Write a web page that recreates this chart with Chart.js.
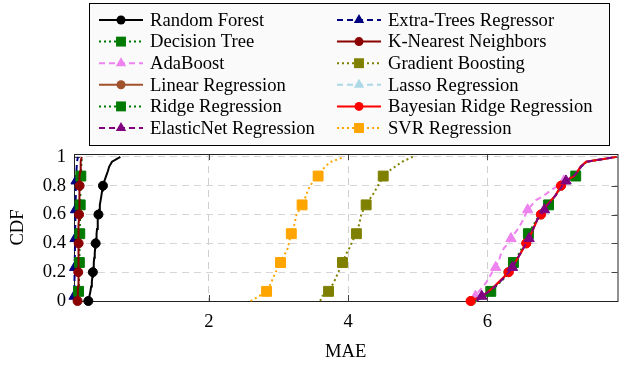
<!DOCTYPE html>
<html>
<head>
<meta charset="utf-8">
<script src="https://cdn.jsdelivr.net/npm/chart.js@4.4.1/dist/chart.umd.min.js"></script>
<style>
html, body { margin: 0; padding: 0; background: #fff; }
</style>
</head>
<body>
<canvas id="cdfChart" width="623" height="367"></canvas>
<script>
// CDF levels shared by every curve
const cdfLevels = [0, 0.033, 0.067, 0.1, 0.133, 0.167, 0.2, 0.233, 0.267, 0.3, 0.333, 0.367, 0.4, 0.433, 0.467,
  0.5, 0.533, 0.567, 0.6, 0.633, 0.667, 0.7, 0.733, 0.767, 0.8, 0.833, 0.867, 0.9, 0.933, 0.967, 1];

// MAE values (sorted) per model
const randomForest = [0.27, 0.285, 0.30, 0.31, 0.32, 0.328, 0.335, 0.342, 0.348, 0.355, 0.362, 0.368, 0.375, 0.382, 0.388,
  0.395, 0.402, 0.408, 0.415, 0.425, 0.435, 0.447, 0.458, 0.468, 0.48, 0.50, 0.525, 0.55, 0.57, 0.61, 0.73];
const extraTrees = [0.064, 0.066, 0.068, 0.070, 0.071, 0.072, 0.073, 0.074, 0.075, 0.076, 0.077, 0.078, 0.079, 0.080, 0.081,
  0.082, 0.083, 0.084, 0.085, 0.086, 0.087, 0.088, 0.089, 0.090, 0.092, 0.094, 0.096, 0.099, 0.103, 0.108, 0.12];
const decisionTree = [0.12, 0.125, 0.13, 0.133, 0.135, 0.137, 0.138, 0.14, 0.141, 0.142, 0.143, 0.144, 0.145, 0.146, 0.147,
  0.148, 0.149, 0.15, 0.151, 0.152, 0.153, 0.154, 0.155, 0.156, 0.158, 0.16, 0.162, 0.165, 0.168, 0.172, 0.18];
const knn = [0.115, 0.118, 0.120, 0.122, 0.123, 0.124, 0.125, 0.126, 0.127, 0.128, 0.129, 0.130, 0.131, 0.132, 0.133,
  0.134, 0.135, 0.136, 0.137, 0.138, 0.139, 0.140, 0.142, 0.143, 0.145, 0.147, 0.150, 0.153, 0.157, 0.163, 0.175];
const adaBoost = [5.78, 5.83, 5.88, 5.94, 5.99, 6.03, 6.07, 6.12, 6.15, 6.18, 6.20, 6.24, 6.30, 6.34, 6.39,
  6.44, 6.48, 6.52, 6.55, 6.58, 6.64, 6.70, 6.82, 6.91, 7.02, 7.10, 7.22, 7.29, 7.34, 7.43, 7.85];
const gradientBoosting = [3.60, 3.63, 3.72, 3.76, 3.80, 3.83, 3.86, 3.89, 3.92, 3.95, 3.98, 4.02, 4.05, 4.08, 4.12,
  4.14, 4.16, 4.175, 4.19, 4.22, 4.26, 4.30, 4.35, 4.39, 4.43, 4.47, 4.505, 4.58, 4.68, 4.78, 4.93];
const linearReg = [5.77, 5.92, 6.02, 6.10, 6.17, 6.24, 6.30, 6.36, 6.40, 6.44, 6.48, 6.52, 6.56, 6.60, 6.63,
  6.66, 6.69, 6.72, 6.77, 6.81, 6.86, 6.92, 6.98, 7.02, 7.06, 7.12, 7.25, 7.30, 7.34, 7.42, 7.86];
const lasso = [5.84, 5.92, 6.02, 6.10, 6.18, 6.25, 6.31, 6.36, 6.40, 6.44, 6.48, 6.52, 6.56, 6.60, 6.63,
  6.66, 6.69, 6.72, 6.77, 6.82, 6.87, 6.93, 6.98, 7.03, 7.08, 7.13, 7.24, 7.30, 7.35, 7.43, 7.86];
const ridgeReg = [5.82, 5.95, 6.05, 6.12, 6.19, 6.26, 6.32, 6.35, 6.375, 6.42, 6.46, 6.50, 6.54, 6.57, 6.59,
  6.63, 6.67, 6.71, 6.76, 6.82, 6.88, 6.93, 6.98, 7.03, 7.08, 7.14, 7.27, 7.31, 7.35, 7.43, 7.86];
const bayesianRidge = [5.76, 5.93, 6.02, 6.10, 6.17, 6.24, 6.31, 6.36, 6.40, 6.44, 6.48, 6.52, 6.56, 6.60, 6.63,
  6.66, 6.69, 6.72, 6.77, 6.81, 6.86, 6.92, 6.98, 7.02, 7.06, 7.12, 7.25, 7.30, 7.34, 7.42, 7.86];
const elasticNet = [5.85, 5.92, 6.03, 6.11, 6.18, 6.25, 6.31, 6.36, 6.40, 6.44, 6.48, 6.52, 6.56, 6.60, 6.63,
  6.66, 6.69, 6.72, 6.77, 6.82, 6.87, 6.93, 6.98, 7.03, 7.08, 7.13, 7.24, 7.30, 7.35, 7.43, 7.86];
const svr = [2.60, 2.72, 2.83, 2.87, 2.90, 2.93, 2.96, 3.00, 3.03, 3.065, 3.10, 3.135, 3.15, 3.165, 3.185,
  3.21, 3.23, 3.245, 3.26, 3.30, 3.34, 3.37, 3.40, 3.42, 3.46, 3.50, 3.57, 3.62, 3.67, 3.76, 3.95];

const xTicks = [2, 4, 6];
const yTicks = [0, 0.2, 0.4, 0.6, 0.8, 1];

const SOLID = [], DOTTED = [2, 3], DASHED = [6, 4];

// plot order (legend fills row by row, two columns)
const series = [
  { label: 'Random Forest', values: randomForest, color: '#000000', dash: SOLID, mark: 'circle' },
  { label: 'Extra-Trees Regressor', values: extraTrees, color: '#000080', dash: DASHED, mark: 'triangle' },
  { label: 'Decision Tree', values: decisionTree, color: '#007a00', dash: DOTTED, mark: 'rect' },
  { label: 'K-Nearest Neighbors', values: knn, color: '#8b0000', dash: SOLID, mark: 'circle' },
  { label: 'AdaBoost', values: adaBoost, color: '#ee82ee', dash: DASHED, mark: 'triangle' },
  { label: 'Gradient Boosting', values: gradientBoosting, color: '#808000', dash: DOTTED, mark: 'rect' },
  { label: 'Linear Regression', values: linearReg, color: '#a0522d', dash: SOLID, mark: 'circle' },
  { label: 'Lasso Regression', values: lasso, color: '#add8e6', dash: DASHED, mark: 'triangle' },
  { label: 'Ridge Regression', values: ridgeReg, color: '#007a00', dash: DOTTED, mark: 'rect' },
  { label: 'Bayesian Ridge Regression', values: bayesianRidge, color: '#ff0000', dash: SOLID, mark: 'circle' },
  { label: 'ElasticNet Regression', values: elasticNet, color: '#800080', dash: DASHED, mark: 'triangle' },
  { label: 'SVR Regression', values: svr, color: '#ffa500', dash: DOTTED, mark: 'rect' }
];

const markPhase = { circle: 0, triangle: 1, rect: 2 };
const markSize = { circle: 4.5, triangle: 6, rect: 7 };

const datasets = series.map((s, i) => ({
  label: s.label,
  data: s.values.map((v, k) => ({ x: v, y: cdfLevels[k] })),
  borderColor: s.color,
  backgroundColor: s.color,
  borderWidth: 2,
  borderDash: s.dash,
  pointStyle: s.mark,
  pointBackgroundColor: s.color,
  pointBorderColor: s.color,
  pointBorderWidth: 1,
  pointRadius: ctx => (ctx.dataIndex % 6 === markPhase[s.mark] && ctx.dataIndex < 30) ? markSize[s.mark] : 0,
  tension: 0,
  clip: false,
  order: series.length - i
}));

const FONT = { family: 'Liberation Serif', size: 18.6 };

function drawMark(ctx, mark, x, y, color) {
  ctx.fillStyle = color;
  ctx.beginPath();
  if (mark === 'circle') {
    ctx.arc(x, y, 4.5, 0, Math.PI * 2);
  } else if (mark === 'rect') {
    const h = 7 * Math.SQRT1_2;
    ctx.rect(x - h, y - h, 2 * h, 2 * h);
  } else {
    const r = 6;
    ctx.moveTo(x, y - r);
    ctx.lineTo(x + r * Math.sin(2 * Math.PI / 3), y + r * 0.5);
    ctx.lineTo(x - r * Math.sin(2 * Math.PI / 3), y + r * 0.5);
    ctx.closePath();
  }
  ctx.fill();
}

// frame + inward ticks, like pgfplots
const frame = {
  id: 'frame',
  beforeDatasetsDraw(chart) {
    const { ctx, chartArea: a, scales } = chart;
    ctx.save();
    ctx.strokeStyle = '#444';
    ctx.lineWidth = 1;
    xTicks.forEach(v => {
      const px = Math.round(scales.x.getPixelForValue(v)) + 0.5;
      ctx.beginPath();
      ctx.moveTo(px, a.bottom); ctx.lineTo(px, a.bottom - 6);
      ctx.moveTo(px, a.top); ctx.lineTo(px, a.top + 6);
      ctx.stroke();
    });
    yTicks.forEach(v => {
      const py = Math.round(scales.y.getPixelForValue(v)) + 0.5;
      ctx.beginPath();
      ctx.moveTo(a.left, py); ctx.lineTo(a.left + 6, py);
      ctx.moveTo(a.right, py); ctx.lineTo(a.right - 6, py);
      ctx.stroke();
    });
    ctx.strokeStyle = '#222';
    ctx.strokeRect(a.left + 0.5, a.top + 0.5, a.right - a.left, a.bottom - a.top);
    ctx.restore();
  }
};

const legendBox = {
  id: 'legendBox',
  afterDraw(chart) {
    const ctx = chart.ctx;
    ctx.save();
    ctx.fillStyle = '#fafafa';
    ctx.fillRect(89.5, 3.5, 520, 142);
    ctx.strokeStyle = '#000';
    ctx.lineWidth = 1;
    ctx.strokeRect(89.5, 3.5, 520, 142);
    series.forEach((s, i) => {
      const x0 = i % 2 ? 337 : 99;
      const y = 20 + Math.floor(i / 2) * 21.6;
      ctx.strokeStyle = s.color;
      ctx.lineWidth = 2;
      ctx.setLineDash(s.dash);
      ctx.beginPath();
      ctx.moveTo(x0, y); ctx.lineTo(x0 + 44, y);
      ctx.stroke();
      ctx.setLineDash([]);
      drawMark(ctx, s.mark, x0 + 22, y, s.color);
      ctx.fillStyle = '#000';
      ctx.font = FONT.size + 'px "Liberation Serif"';
      ctx.textBaseline = 'middle';
      ctx.fillText(s.label, x0 + 51, y + 1);
    });
    ctx.restore();
  }
};

new Chart(document.getElementById('cdfChart'), {
  type: 'line',
  data: { datasets },
  options: {
    responsive: false,
    animation: false,
    devicePixelRatio: 1,
    layout: { padding: { top: 154, left: 0, right: 0, bottom: 0 } },
    plugins: { legend: { display: false }, tooltip: { enabled: false } },
    scales: {
      x: {
        type: 'linear',
        min: 0.064,
        max: 7.87,
        afterBuildTicks: s => { s.ticks = xTicks.map(v => ({ value: v })); },
        afterFit: s => { s.height = 66; },
        grid: { color: '#cfcfcf', lineWidth: 1, drawTicks: false },
        border: { display: false, dash: [7, 5] },
        ticks: { padding: 10, font: FONT, color: '#000', callback: v => String(v) },
        title: { display: true, text: 'MAE', font: FONT, color: '#000', padding: { top: 4, bottom: 4 } }
      },
      y: {
        type: 'linear',
        min: 0,
        max: 1.02,
        afterBuildTicks: s => { s.ticks = yTicks.map(v => ({ value: v })); },
        afterFit: s => { s.width = 74; },
        grid: { color: '#d6d6d6', lineWidth: 1, drawTicks: false },
        border: { display: false, dash: [7, 5] },
        ticks: { padding: 8, font: FONT, color: '#000', callback: v => String(v) },
        title: { display: true, text: 'CDF', font: FONT, color: '#000', padding: { top: 7, bottom: 4 } }
      }
    }
  },
  plugins: [frame, legendBox]
});
</script>
</body>
</html>
